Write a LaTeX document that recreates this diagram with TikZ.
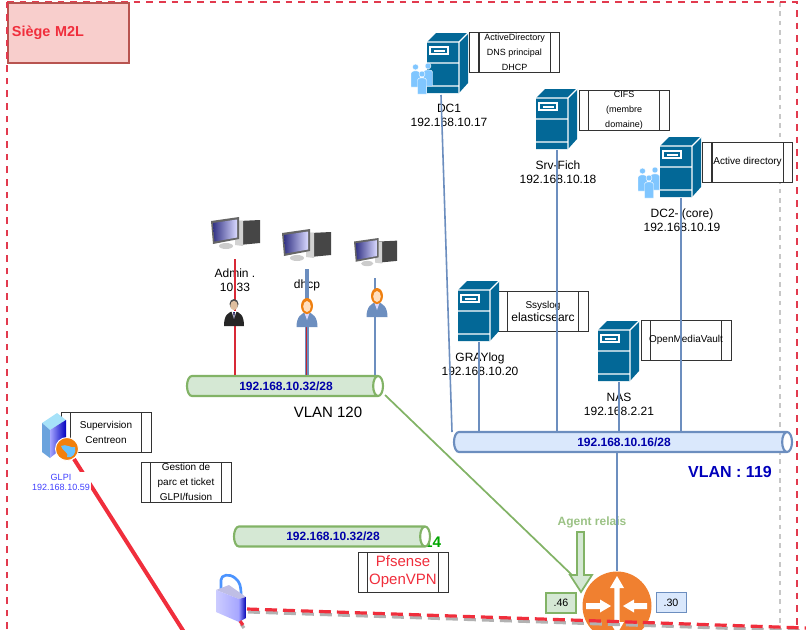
\documentclass[tikz,border=0pt]{standalone}
\usepackage{fontspec}
\setmainfont{Liberation Sans}
\usetikzlibrary{shapes.geometric}

\definecolor{srvblue}{RGB}{3,104,151}
\definecolor{lanblue}{RGB}{108,142,191}
\definecolor{lanfill}{RGB}{218,232,252}
\definecolor{langreen}{RGB}{130,179,102}
\definecolor{greenfill}{RGB}{213,232,212}
\definecolor{zonered}{RGB}{226,58,78}
\definecolor{linkred}{RGB}{240,46,60}
\definecolor{siegefill}{RGB}{248,206,204}
\definecolor{siegeline}{RGB}{184,84,80}
\definecolor{netnavy}{RGB}{0,0,170}
\definecolor{routerorange}{RGB}{240,128,48}

\tikzset{every picture/.style={line width=0.75pt}}
\tikzset{
  every pic/.style={yscale=-1},
  fontnine/.style={font=\fontsize{6.75}{11.25}\selectfont},
  fontten/.style={font=\fontsize{7.5}{11.25}\selectfont},
  fontlabel/.style={font=\fontsize{9}{10.5}\selectfont},
  procbox/.style={draw=black!80,fill=white,minimum width=67.5pt,minimum height=30pt,inner sep=0pt,align=center,
    path picture={
      \draw [black!80,line width=1pt] ([xshift=7pt]path picture bounding box.north west) -- ([xshift=7pt]path picture bounding box.south west);
      \draw [black!80,line width=1pt] ([xshift=-7pt]path picture bounding box.north east) -- ([xshift=-7pt]path picture bounding box.south east);
    }},
  netbus/.style={cylinder,draw=#1,line width=1.6pt,shape aspect=1.1,inner sep=0pt,minimum width=15pt,cylinder uses custom fill,cylinder end fill=white,
    execute at begin node={\hspace{6pt}},font=\fontsize{9}{10.5}\selectfont\bfseries,text=netnavy},
  linklan/.style={draw=lanblue,line width=1.2pt},
  zoneline/.style={zonered,line width=1.7pt,dash pattern=on 5pt off 4.5pt},
  vpnlink/.style={draw=linkred,line width=2.4pt,dash pattern=on 9pt off 4.5pt,
    preaction={draw=black!30,line width=2.4pt,dash pattern=on 9pt off 4.5pt,transform canvas={xshift=.75pt,yshift=-2.2pt}}},
  srvtower/.pic={
    \fill [srvblue] (0,0) -- (9,-9) -- (41,-9) -- (41,41) -- (32,51) -- (0,51) -- cycle ;
    \draw [white,line width=.9pt] (0,0) -- (32,0) -- (32,51) (32,0) -- (41,-9) (0,21) -- (32,21) (0,44) -- (32,44) ;
    \draw [white,line width=.9pt] (3,5) rectangle (21,12) ;
    \fill [white] (7,8) rectangle (18,9.5) ;
    \coordinate (-foot) at (21,52) ;
  },
  pcdesk/.pic={
    \fill [gray!55!black] (28,4) -- (49,3) -- (49,26) -- (28,28) -- cycle ;
    \fill [gray!35] (24,4) -- (32,4) -- (32,29) -- (24,28) -- cycle ;
    \fill [gray!40] (15,29) ellipse (7 and 3) ;
    \fill [gray!80!black] (0,4) -- (28,0) -- (28,22) -- (2,27) -- cycle ;
    \shade [left color=blue!40!black!80!white,right color=blue!15!white] (2,6) -- (26,2.5) -- (26,20.5) -- (3.5,24.5) -- cycle ;
  },
  usermale/.pic={
    \fill [black!85] (-10,27) .. controls (-10,16) and (-6,13) .. (0,12) .. controls (6,13) and (10,16) .. (10,27) -- cycle ;
    \fill [white] (-2.5,12) -- (2.5,12) -- (0,20) -- cycle ;
    \fill [blue!30!black] (-.8,13) -- (.8,13) -- (0,21) -- cycle ;
    \fill [black!70] (0,5) ellipse (4.5 and 5) ;
    \fill [brown!50!white] (0,6.5) ellipse (3.7 and 4.7) ;
  },
  userfemale/.pic={
    \fill [lanblue] (-10.5,29) .. controls (-10.5,19) and (-6,15) .. (0,14) .. controls (6,15) and (10.5,19) .. (10.5,29) -- cycle ;
    \fill [white!85!blue] (-2.5,15) -- (2.5,15) -- (0,22) -- cycle ;
    \fill [orange!75!brown] (0,8) ellipse (6 and 8) ;
    \fill [orange!25!white] (0,8.5) ellipse (3.8 and 5.5) ;
  },
  usergroup/.pic={
    \foreach \px/\py in {4.5/1,17/0,11/8} {
      \fill [blue!45!cyan!50!white,draw=white,line width=.3pt] (\px-4.5,\py+23) -- (\px-4.5,\py+9) .. controls (\px-4.5,\py+6) and (\px+4.5,\py+6) .. (\px+4.5,\py+9) -- (\px+4.5,\py+23) -- cycle ;
      \fill [blue!45!cyan!50!white,draw=white,line width=.3pt] (\px,\py+3) circle (3) ;
    }
  },
  glpisrv/.pic={
    \fill [cyan!35!white] (0,10) -- (15,0) -- (24,7) -- (8,17) -- cycle ;
    \fill [cyan!60!blue!60!white] (0,10) -- (8,17) -- (8,45) -- (0,39) -- cycle ;
    \shade [left color=blue!35!white,right color=blue!75!black] (8,17) -- (24,7) -- (24,32) -- (8,45) -- cycle ;
    \coordinate (-port) at (32,46) ;
  },
  lockbox/.pic={
    \draw [blue!60!cyan!70!white,line width=2pt] (5,15) -- (5,6) .. controls (5,1) and (13,-1) .. (19,4) .. controls (24,8) and (25,12) .. (25,21) ;
    \fill [cyan!20!blue!25!white] (0,16) -- (13,11) -- (30,23) -- (23,25) -- cycle ;
    \shade [left color=blue!20!white,right color=blue!35!white] (0,16) -- (23,25) -- (23,48) -- (0,38) -- cycle ;
    \shade [left color=blue!40!white,right color=blue!70!black] (23,25) -- (30,23) -- (30,44) -- (23,48) -- cycle ;
    \coordinate (-port) at (31,35) ;
    \coordinate (-foot) at (24,47) ;
  },
  routerarrows/.pic={
    \fill [white] (0,-30) -- (7,-18) -- (2.7,-18) -- (2.7,16) -- (7,16) -- (0,28) -- (-7,16) -- (-2.7,16) -- (-2.7,-18) -- (-7,-18) -- cycle ;
    \fill [white] (-31,-3) -- (-17,-3) -- (-17,-6.5) -- (-6,0) -- (-17,6.5) -- (-17,3) -- (-31,3) -- cycle ;
    \fill [white] (30,-3) -- (17,-3) -- (17,-6.5) -- (6,0) -- (17,6.5) -- (17,3) -- (30,3) -- cycle ;
  },
}

\begin{document}
\begin{tikzpicture}[x=0.75pt,y=0.75pt,yscale=-1,xscale=1]
\path [use as bounding box,clip] (0,0) rectangle (806,629);

%Straight Lines [id:zone] 
\draw [black!22,line width=1.2pt,dash pattern=on 3.5pt off 3.5pt] (780,2) coordinate (zonegrayA) -- (780,629) coordinate (zonegrayB) ;
\draw [zoneline] (7,2) -- (797,2) -- (797,629) ;

%Shape: Rectangle [id:siege] 
\draw (7,2) node [anchor=north west,draw=siegeline,fill=siegefill,line width=1.5pt,minimum height=45pt,text width=85pt,inner xsep=3pt,inner ysep=0pt,text=linkred,font=\fontsize{10.8}{12}\selectfont\bfseries] (siege) {Si\`ege M2L};
\draw [zoneline] (7,629) -- (7,2) ;

%Shape: Process 
\draw (514.5,52) node [procbox,fontnine] (boxdc1) {ActiveDirectory\\DNS principal\\DHCP};
\draw (624,110) node [procbox,fontnine] (boxfich) {CIFS\\(membre\\domaine)};
\draw (747.5,162) node [procbox,fontten] (boxdc2) {Active directory};
\draw (543,311) node [procbox,font=\fontsize{7.5}{9.75}\selectfont] (boxlog) {Ssyslog\\{\fontsize{9}{9.75}\selectfont elasticsearc}};
\draw (686,340) node [procbox,fontten] (boxnas) {OpenMediaVault};
\draw (106,432) node [procbox,fontten] (boxsup) {Supervision\\Centreon};
\draw (186,482) node [procbox,fontten] (boxparc) {Gestion de\\parc et ticket\\GLPI/fusion};
\draw (403,572) node [procbox,text=linkred,font=\fontsize{11.25}{13.5}\selectfont] (boxvpn) {Pfsense\\OpenVPN};

%Servers 
\pic (dc1) at (427,42) {srvtower};
\pic (fich) at (536,98) {srvtower};
\pic (dc2) at (660,146) {srvtower};
\pic (log) at (458,290) {srvtower};
\pic (nas) at (598,330) {srvtower};
\pic (grpdc1) at (411,63) {usergroup};
\pic (grpdc2) at (638,167) {usergroup};

% Text Node
\draw (449,115) node [align=center,fontlabel] (txtdc1) {DC1\\192.168.10.17};
\draw (558,172) node [align=center,fontlabel] (txtfich) {Srv-Fich\\192.168.10.18};
\draw (682,220) node [align=center,fontlabel] (txtdc2) {DC2- (core)\\192.168.10.19};
\draw (480,364) node [align=center,fontlabel] (txtlog) {GRAYlog\\192.168.10.20};
\draw (619,404) node [align=center,fontlabel] (txtnas) {NAS\\192.168.2.21};
\draw (235,280) node [align=center,fontlabel] (txtadmin) {Admin .\\10.33};
\draw (307,285) node [fontlabel] (txtdhcp) {dhcp};
\draw (328,412) node [font=\fontsize{11.25}{13}\selectfont] (txtv120) {VLAN 120};
\draw (730,472) node [text=netnavy!80!blue,font=\fontsize{12}{14}\selectfont\bfseries] (txtv119) {VLAN : 119};
\draw (592,522) node [text=langreen!80!white,font=\fontsize{9}{11}\selectfont\bfseries] (txtagent) {Agent relais};
\draw (432.6,542) node [text=green!65!black,font=\fontsize{11.5}{13}\selectfont\bfseries] (txtfourteen) {14};

% Buses
\draw (282,386) node [netbus=langreen,cylinder body fill=greenfill,minimum height=147pt] (bus120) {192.168.10.32/28};
\draw (620,442) node [netbus=lanblue,cylinder body fill=lanfill,minimum height=253.5pt] (bus119) {192.168.10.16/28};
\draw (329,536.5) node [netbus=langreen,cylinder body fill=greenfill,minimum height=147pt] (busvpn) {192.168.10.32/28};

%Straight Lines [id:lan119] 
\coordinate (dc1foot) at (441,95);
\coordinate (dc1port) at (452,432);
\draw [linklan] (dc1foot) -- (dc1port) ;
\draw [linklan] (fich-foot) -- (fich-foot |- bus119.north) ;
\draw [linklan] (dc2-foot) -- (dc2-foot |- bus119.north) ;
\draw [linklan] (log-foot) -- (log-foot |- bus119.north) ;
\draw [linklan] (nas-foot) -- (nas-foot |- bus119.north) ;

%Workstations 
\pic (pcadmin) at (211,217) {pcdesk};
\pic (pcdhcp) at (282,229) {pcdesk};
\pic [scale=.88] (pcthird) at (354,238) {pcdesk};

%Straight Lines [id:lan120] 
\coordinate (adminend) at (235,259);
\coordinate (dhcpend) at (307,269);
\coordinate (thirdend) at (375,278);
\draw [linkred!90!black,line width=1.2pt] (adminend) -- (adminend |- bus120.north) ;
\draw [lanblue,line width=2.6pt] (dhcpend) -- (dhcpend |- bus120.north) ;
\draw [linkred!80!black,line width=.7pt] (306.5,325) coordinate (dhcpred) -- (dhcpred |- bus120.north) ;
\draw [lanblue,line width=2.2pt] (thirdend) -- (thirdend |- bus120.north) ;

\pic (useradmin) at (234,299) {usermale};
\pic (userdhcp) at (307,298) {userfemale};
\pic (userthird) at (377,288) {userfemale};

%Straight Lines [id:glpi] 
\pic (glpi) at (42,413) {glpisrv};
\coordinate (glpiend) at (184,632);
\draw [linkred,line width=3pt] (glpi-port) -- (glpiend) ;
\draw (61,482) node [fill=white,inner xsep=1pt,inner ysep=1.5pt,align=center,text=blue!75!white,font=\fontsize{6.75}{7.5}\selectfont] (txtglpi) {GLPI\\192.168.10.59};
\fill [orange!80!brown,draw=white,line width=.7pt] (67,449) circle (11.5) ;
\fill [blue!40!cyan!60!white] (61,446) .. controls (66,443) and (72,449) .. (75,447) .. controls (77,453) and (72,459) .. (67,457) .. controls (70,453) and (62,451) .. (61,446) -- cycle ;

%Shape: Circle [id:router] 
\draw (617,606) node [circle,fill=routerorange,minimum size=51.75pt,inner sep=0pt] (router) {};
\pic (routerpic) at (617,606) {routerarrows};
\draw [linklan] (router.north |- bus119.south) -- (router.north) ;

%Straight Lines [id:agent] 
\coordinate (agentstart) at (385,395);
\coordinate (agenttip) at (572,575);
\draw [langreen,line width=1.3pt] (agentstart) -- (agenttip) ;

%Shape: Down Arrow [id:relais] 
\draw [draw=langreen,fill=greenfill,line width=1.3pt] (577,532) -- (584,532) -- (584,575) -- (592,575) -- (581,592) -- (570,575) -- (577,575) -- cycle ;

% Text Node
\draw (561,603) node [draw=langreen,fill=greenfill,line width=1.5pt,minimum width=22.5pt,minimum height=15pt,inner sep=0pt,font=\fontsize{8}{10}\selectfont] (iface46) {.46};
\draw (671,602.5) node [draw=lanblue,fill=lanfill,minimum width=22.5pt,minimum height=14.5pt,inner sep=0pt,font=\fontsize{8}{10}\selectfont] (iface30) {.30};

%Shape: Padlock 
\pic (lock) at (216,574) {lockbox};
\coordinate (vpnend) at (806,628);
\draw [vpnlink] (lock-port) -- (vpnend) ;
\draw [vpnlink] (lock-foot) -- ++(3,4) coordinate (lockend) ;

\end{tikzpicture}
\end{document}
